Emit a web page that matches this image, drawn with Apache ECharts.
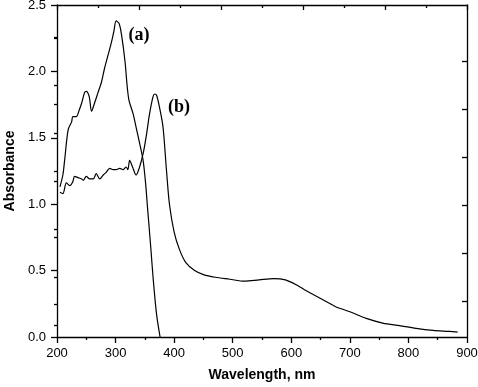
<!DOCTYPE html>
<html><head><meta charset="utf-8">
<script src="https://cdn.jsdelivr.net/npm/echarts@6/dist/echarts.min.js"></script>
<style>html,body{margin:0;padding:0;background:#fff}#c{width:478px;height:387px}</style>
</head><body><div id="c"></div>
<script>
// Curve (a)
const wlA = [205,210,213,219,225,227,233,238,242,247,250,255,259,264,270,276,281,287,293,297,301,306,310,316,320,323,330,336,341,347,351,355,360,364,370,376];
const absA = [1.13,1.22,1.33,1.56,1.62,1.66,1.66,1.71,1.76,1.84,1.85,1.81,1.70,1.76,1.84,1.92,2.02,2.12,2.22,2.30,2.38,2.36,2.28,2.08,1.88,1.78,1.68,1.56,1.46,1.33,1.17,0.95,0.68,0.45,0.17,0.0];
// Curve (b)
const wlB = [205,210,216,222,227,230,236,242,245,250,256,262,267,273,279,284,290,296,301,307,313,318,321,324,329,335,341,347,353,358,364,367,370,375,381,387,392,400,409,420,435,450,470,495,520,545,570,590,610,625,650,675,700,728,756,785,813,842,870,884];
const absB = [1.09,1.08,1.16,1.14,1.17,1.21,1.20,1.19,1.18,1.21,1.19,1.19,1.23,1.19,1.22,1.24,1.27,1.26,1.26,1.27,1.26,1.28,1.26,1.33,1.28,1.22,1.28,1.38,1.53,1.68,1.81,1.83,1.82,1.73,1.58,1.25,1.00,0.79,0.66,0.56,0.50,0.47,0.45,0.435,0.42,0.43,0.44,0.43,0.39,0.35,0.29,0.23,0.19,0.14,0.105,0.085,0.065,0.05,0.042,0.037];
const xTicks = {min:200, max:900, step:100};
const yTicks = {min:0, max:2.5, step:0.5};
const rightMajor = [1.5,3.5,5.5,7.5,9.5,11.5];
const rightMinor = [0.5,2.5,4.5,6.5,8.5,10.5,12.5];
const labelA = '(a)';
const labelB = '(b)';

const pairs = (xs, ys) => xs.map((x,i)=>[x, ys[i]]);
const chart = echarts.init(document.getElementById('c'), null, {renderer:'canvas'});
const lineStyleAxis = {color:'#000', width:1.3};
const font = 'Liberation Sans';
chart.setOption({
  animation:false,
  backgroundColor:'#fff',
  grid:{left:57, right:11, top:5, bottom:50, containLabel:false, outerBoundsMode:'none'},
  xAxis:[{
    type:'value', min:xTicks.min, max:xTicks.max, interval:xTicks.step, position:'bottom',
    axisLine:{show:true, onZero:false, lineStyle:lineStyleAxis},
    axisTick:{show:true, length:6, lineStyle:lineStyleAxis},
    minorTick:{show:true, splitNumber:2, length:3, lineStyle:lineStyleAxis},
    splitLine:{show:false},
    axisLabel:{color:'#000', fontFamily:font, fontSize:13, margin:10},
    name:'Wavelength, nm', nameLocation:'middle', nameGap:31,
    nameTextStyle:{color:'#000', fontFamily:font, fontSize:14, fontWeight:'bold'}
  },{
    type:'value', min:0, max:10, interval:2, position:'top',
    axisLine:{show:true, onZero:false, lineStyle:lineStyleAxis},
    axisTick:{show:true, inside:true, length:5, lineStyle:lineStyleAxis},
    minorTick:{show:true, splitNumber:2, length:3, lineStyle:lineStyleAxis},
    splitLine:{show:false}, axisLabel:{show:false}
  }],
  yAxis:[{
    type:'value', min:yTicks.min, max:yTicks.max, interval:yTicks.step, position:'left',
    axisLine:{show:true, onZero:false, lineStyle:lineStyleAxis},
    axisTick:{show:true, length:6, lineStyle:lineStyleAxis},
    minorTick:{show:true, splitNumber:2, length:3, lineStyle:lineStyleAxis},
    splitLine:{show:false},
    axisLabel:{color:'#000', fontFamily:font, fontSize:13, margin:11, formatter:v=>v.toFixed(1)},
    name:'Absorbance', nameLocation:'middle', nameGap:38,
    nameTextStyle:{color:'#000', fontFamily:font, fontSize:14, fontWeight:'bold'}
  },{
    type:'value', min:0, max:13.833, position:'right',
    axisLine:{show:true, onZero:false, lineStyle:lineStyleAxis},
    axisTick:{show:true, inside:true, length:5, customValues:rightMajor, lineStyle:lineStyleAxis},
    splitLine:{show:false}, axisLabel:{show:false}
  },{
    type:'value', min:0, max:13.833, position:'right',
    axisLine:{show:false},
    axisTick:{show:true, inside:true, length:3, customValues:rightMinor, lineStyle:lineStyleAxis},
    splitLine:{show:false}, axisLabel:{show:false}
  }],
  series:[{
    type:'line', data:pairs(wlA, absA), xAxisIndex:0, yAxisIndex:0,
    showSymbol:false, smooth:0.3, lineStyle:{color:'#000', width:1.2}
  },{
    type:'line', data:pairs(wlB, absB), xAxisIndex:0, yAxisIndex:0,
    showSymbol:false, smooth:0.3, lineStyle:{color:'#000', width:1.2}
  }],
  graphic:[
    {type:'text', x:139, y:35, style:{text:labelA, fill:'#000', font:'bold 18px "Liberation Serif"', align:'center', verticalAlign:'middle'}},
    {type:'text', x:179, y:107, style:{text:labelB, fill:'#000', font:'bold 18px "Liberation Serif"', align:'center', verticalAlign:'middle'}}
  ]
});
</script></body></html>
